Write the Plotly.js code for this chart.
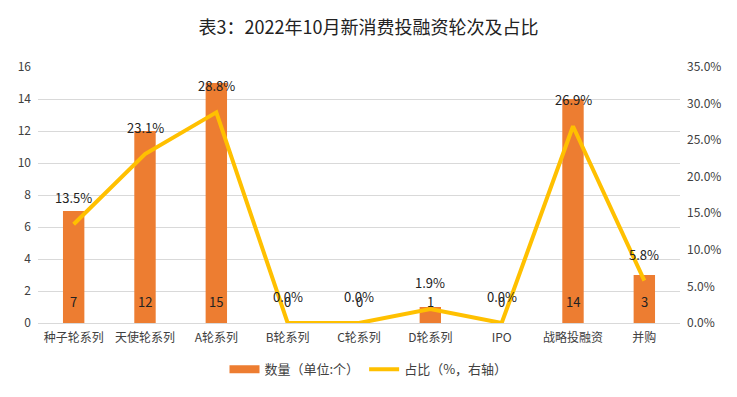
<!DOCTYPE html>
<html><head><meta charset="utf-8">
<script src="https://cdn.plot.ly/plotly-3.0.1.min.js"></script>
<style>html,body{margin:0;padding:0;background:#fff}#c{width:737px;height:397px}</style>
</head><body><div id="c"></div>
<script>
const categories = ['种子轮系列','天使轮系列','A轮系列','B轮系列','C轮系列','D轮系列','IPO','战略投融资','并购'];
const counts = [7,12,15,0,0,1,0,14,3];
const shares = [13.5,23.1,28.8,0.0,0.0,1.9,0.0,26.9,5.8];
const leftTicks = [0,2,4,6,8,10,12,14,16];
const rightTicks = [0,5,10,15,20,25,30,35];

const font = "'Microsoft YaHei','Noto Sans CJK SC','Noto Sans',sans-serif";
const traces = [
  {type:'bar', x:categories, y:counts, name:'数量（单位:个）', marker:{color:'#ED7D31'}, width:0.3, hoverinfo:'skip', showlegend:false},
  {type:'scatter', mode:'lines', x:[null], y:[null], name:'数量（单位:个）', line:{color:'#ED7D31', width:8}, hoverinfo:'skip'},
  {type:'scatter', mode:'lines', x:categories, y:shares, yaxis:'y2', name:'占比（%，右轴）', line:{color:'#FFC000', width:4}, hoverinfo:'skip'}
];
const annotations = [];
categories.forEach((c,i)=>{
  annotations.push({x:c, y:0, xref:'x', yref:'y', text:String(counts[i]), showarrow:false, yanchor:'bottom', yshift:10, font:{size:13,color:'#222'}});
  annotations.push({x:c, y:shares[i], xref:'x', yref:'y2', text:shares[i].toFixed(1)+'%', showarrow:false, yanchor:'bottom', yshift:15, font:{size:13,color:'#222'}});
});
const layout = {
  width:737, height:397,
  margin:{l:38, r:57, t:67, b:74},
  paper_bgcolor:'#fff', plot_bgcolor:'#fff',
  font:{family:font, size:12, color:'#404040'},
  title:{text:'表3：2022年10月新消费投融资轮次及占比', font:{size:18, color:'#222', family:font}, x:0.5, xanchor:'center', y:0.93, yanchor:'middle'},
  xaxis:{type:'category', tickfont:{size:12, color:'#404040'}, showline:false, ticks:'', ticklabelstandoff:6, fixedrange:true, automargin:false},
  yaxis:{range:[0,16], tickvals:leftTicks, showgrid:true, gridcolor:'#D9D9D9', gridwidth:1, zeroline:true, zerolinecolor:'#D9D9D9', tickfont:{size:12,color:'#404040'}, ticks:'', ticklabelstandoff:6, automargin:false},
  yaxis2:{range:[0,35], tickvals:rightTicks, ticktext:rightTicks.map(v=>v.toFixed(1)+'%'), overlaying:'y', side:'right', showgrid:false, zeroline:false, tickfont:{size:12,color:'#404040'}, ticks:'', ticklabelstandoff:6, automargin:false},
  legend:{orientation:'h', x:0.5, xanchor:'center', xref:'container', y:0.07, yanchor:'middle', yref:'container', font:{size:13,color:'#404040'}, traceorder:'normal'},
  annotations:annotations,
  showlegend:true
};
Plotly.newPlot('c', traces, layout, {displayModeBar:false, staticPlot:true});
</script></body></html>
